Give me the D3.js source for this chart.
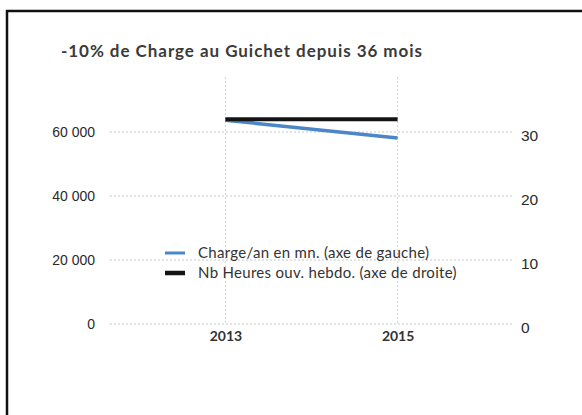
<!DOCTYPE html>
<html>
<head>
<meta charset="utf-8">
<script src="https://cdn.jsdelivr.net/npm/d3@7"></script>
<style>
  body { margin: 0; background: #fff; }
  text { font-family: Lato, "Open Sans", sans-serif; fill: #333; }
</style>
</head>
<body>
<script>
// donnees
var annees = ["2013", "2015"];
var chargeMn = [63700, 58100];      // axe de gauche
var heuresHebdo = [32, 32];         // axe de droite
var ticksGauche = [0, 20000, 40000, 60000];
var ticksDroite = [0, 10, 20, 30];
var titre = "-10% de Charge au Guichet depuis 36 mois";
var legende = ["Charge/an en mn. (axe de gauche)", "Nb Heures ouv. hebdo. (axe de droite)"];

var width = 582, height = 415;
var svg = d3.select("body").append("svg").attr("width", width).attr("height", height);

// cadre (haut et gauche seulement visibles)
svg.append("line").attr("x1", 6).attr("x2", width).attr("y1", 11).attr("y2", 11)
  .attr("stroke", "#111").attr("stroke-width", 2.5);
svg.append("line").attr("x1", 7).attr("x2", 7).attr("y1", 10).attr("y2", height)
  .attr("stroke", "#111").attr("stroke-width", 2.5);

svg.append("text").attr("x", 61).attr("y", 57)
  .style("font-size", "17px").style("font-weight", "bold").style("letter-spacing", "0.95px")
  .style("fill", "#3a3a3a")
  .text(titre);

var left = 110, right = 513, bottom = 324;

var x = d3.scalePoint().domain(annees).range([left, right]).padding(0.67);
var yG = d3.scaleLinear().domain([0, 20000]).range([bottom, bottom - 64]);
var yD = d3.scaleLinear().domain([0, 10]).range([bottom, bottom - 64]);

// grille horizontale pointillee
svg.selectAll(".gh").data(ticksGauche).enter().append("line")
  .attr("x1", left).attr("x2", right)
  .attr("y1", function(d){ return yG(d); }).attr("y2", function(d){ return yG(d); })
  .attr("stroke", "#c4c8cc").attr("stroke-width", 1).attr("stroke-dasharray", "2,2");

// grille verticale
svg.selectAll(".gv").data(annees).enter().append("line")
  .attr("x1", function(d){ return x(d); }).attr("x2", function(d){ return x(d); })
  .attr("y1", 77).attr("y2", bottom)
  .attr("stroke", "#d0d2d6").attr("stroke-width", 1).attr("stroke-dasharray", "2,2");

// axe gauche
var axeG = d3.axisLeft(yG).tickValues(ticksGauche).tickSize(0).tickPadding(0)
  .tickFormat(function(d){ return d3.format(",")(d).replace(/,/g, " "); });
var gG = svg.append("g").attr("transform", "translate(95,0)").call(axeG);
gG.select(".domain").remove();
gG.selectAll("text").style("font-size", "14px").style("font-family", "'Liberation Sans', Arial, sans-serif").style("fill", "#2a2a2a");

// axe droit
var axeD = d3.axisRight(yD).tickValues(ticksDroite).tickSize(0).tickPadding(0);
var gD = svg.append("g").attr("transform", "translate(521,4)").call(axeD);
gD.select(".domain").remove();
gD.selectAll("text").style("font-size", "15.5px").style("font-family", "'Liberation Sans', Arial, sans-serif").style("fill", "#2a2a2a");

// axe x
var axeX = d3.axisBottom(x).tickSize(0).tickPadding(0);
var gX = svg.append("g").attr("transform", "translate(0,331)").call(axeX);
gX.select(".domain").remove();
gX.selectAll("text").style("font-size", "14px").style("font-weight", "bold").style("fill", "#333");

// series
var ligne = function(sc, vals) {
  return d3.line().x(function(d, i){ return x(annees[i]); }).y(function(d){ return sc(d); })(vals);
};
svg.append("path").attr("d", ligne(yG, chargeMn)).attr("fill", "none")
  .attr("stroke", "#4a86c8").attr("stroke-width", 3.5);
svg.append("path").attr("d", ligne(yD, heuresHebdo)).attr("fill", "none")
  .attr("stroke", "#141414").attr("stroke-width", 4);

// legende
var couleurs = ["#4a86c8", "#141414"];
var lg = svg.selectAll(".lg").data(legende).enter().append("g")
  .attr("transform", function(d, i){ return "translate(165," + (253 + i * 20) + ")"; });
lg.append("line").attr("x1", 0).attr("x2", 20).attr("y1", 0).attr("y2", 0)
  .attr("stroke", function(d, i){ return couleurs[i]; })
  .attr("stroke-width", function(d, i){ return i ? 4.5 : 3; });
lg.append("text").attr("x", 33).attr("y", 4.5).style("font-size", "15px")
  .style("letter-spacing", "0.3px").style("fill", "#333").text(function(d){ return d; });
</script>
</body>
</html>
